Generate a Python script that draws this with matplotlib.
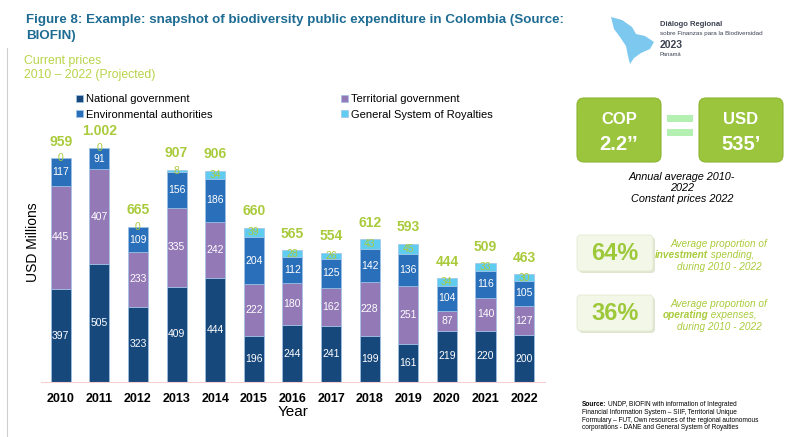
import matplotlib
matplotlib.use("Agg")
import matplotlib.pyplot as plt
from matplotlib.patches import FancyBboxPatch, Rectangle, Polygon
import numpy as np

plt.rcParams['font.family'] = ['Liberation Sans', 'DejaVu Sans']

years = ['2010', '2011', '2012', '2013', '2014', '2015', '2016',
         '2017', '2018', '2019', '2020', '2021', '2022']
national = [397, 505, 323, 409, 444, 196, 244, 241, 199, 161, 219, 220, 200]
territorial = [445, 407, 233, 335, 242, 222, 180, 162, 228, 251, 87, 140, 127]
environmental = [117, 91, 109, 156, 186, 204, 112, 125, 142, 136, 104, 116, 105]
royalties = [0, 0, 0, 8, 34, 39, 28, 26, 43, 45, 34, 33, 30]
totals = [959, 1002, 665, 907, 906, 660, 565, 554, 612, 593, 444, 509, 463]

series_names = ['National government', 'Territorial government',
                'Environmental authorities', 'General System of Royalties']
colors = ['#17487B', '#9479B7', '#2A6FBA', '#5FCCF0']
green = '#A9CB3B'
light_green = '#B8D449'

W, H = 785, 437
fig = plt.figure(figsize=(W / 100, H / 100), dpi=100)

# background axes in pixel units for the page decorations
bg = fig.add_axes([0, 0, 1, 1])
bg.set_xlim(0, W)
bg.set_ylim(H, 0)
bg.axis('off')

# bar chart axes
ax = fig.add_axes([41 / W, 1 - 382 / H, (545 - 41) / W, (382 - 130) / H])
x = np.arange(len(years))
width = 0.52
bottom = np.zeros(len(years))
bars = []
for vals, col in zip([national, territorial, environmental, royalties], colors):
    b = ax.bar(x, vals, width, bottom=bottom, color=col,
               edgecolor='#9fc3e6', linewidth=0.5)
    bars.append(b)
    bottom = bottom + np.array(vals)

# value labels inside segments
base = np.zeros(len(years))
for i, vals in enumerate([national, territorial, environmental, royalties]):
    for j, v in enumerate(vals):
        c = green if i == 3 else 'white'
        ax.text(x[j], base[j] + v / 2, str(v), ha='center', va='center',
                fontsize=7.5, color=c)
    base = base + np.array(vals)

# totals on top
for j, t in enumerate(totals):
    lab = '{:,}'.format(t).replace(',', '.')
    ax.annotate(lab, (x[j], bottom[j]), xytext=(0, 12), textcoords='offset points',
                ha='center', va='center', fontsize=10, fontweight='bold', color=green)

ax.set_xlim(-0.51, 12.54)
ax.set_ylim(0, 1080)
ax.set_xticks(x)
ax.set_xticklabels(years, fontsize=9, fontweight='bold')
ax.tick_params(axis='x', length=0, pad=8)
ax.set_yticks([])
for s in ['top', 'right', 'left']:
    ax.spines[s].set_visible(False)
ax.spines['bottom'].set_color('#f5cfcf')
ax.spines['bottom'].set_linewidth(0.8)
ax.patch.set_alpha(0)

# legends in two columns
leg_kw = dict(loc='upper left', bbox_transform=fig.transFigure, frameon=False,
              handlelength=0.6, handleheight=0.6, handletextpad=0.3,
              labelspacing=0.5, fontsize=8.0, borderpad=0, borderaxespad=0)
leg1 = ax.legend([bars[0], bars[2]], [series_names[0], series_names[2]],
                 bbox_to_anchor=(76 / W, 1 - 94 / H), **leg_kw)
ax.add_artist(leg1)
ax.legend([bars[1], bars[3]], [series_names[1], series_names[3]],
          bbox_to_anchor=(341 / W, 1 - 94 / H), **leg_kw)

bg.text(33, 242, 'USD Millions', rotation=90, ha='center', va='center', fontsize=10)
bg.text(293, 412, 'Year', ha='center', va='center', fontsize=11)

# titles
bg.plot([7, 7], [48, H], color='#cfcfcf', lw=0.8)
bg.text(26, 20, 'Figure 8: Example: snapshot of biodiversity public expenditure in Colombia (Source:',
        fontsize=9.6, fontweight='bold', color='#1E6C93', va='center')
bg.text(26, 36, 'BIOFIN)', fontsize=9.6, fontweight='bold', color='#1E6C93', va='center')
bg.text(24, 61, 'Current prices', fontsize=8.8, color=light_green, va='center')
bg.text(24, 75, '2010 \u2013 2022 (Projected)', fontsize=8.8, color=light_green, va='center')

# event logo
bg.add_patch(Polygon([(611, 17), (622, 20), (632, 27), (636, 34), (645, 36),
                      (654, 42), (650, 49), (641, 53), (634, 58), (630, 64),
                      (628, 56), (626, 46), (620, 37), (614, 29)],
                     closed=True, color='#7cc8ee', lw=0))
bg.text(660, 24, 'Diálogo Regional', fontsize=5.5, fontweight='bold', color='#3d4252', va='center')
bg.text(660, 33, 'sobre Finanzas para la Biodiversidad', fontsize=4.5, color='#3d4252', va='center')
bg.text(660, 45, '2023', fontsize=7.5, fontweight='bold', color='#3d4252', va='center')
bg.text(660, 55, 'Panamá', fontsize=4.2, color='#3d4252', va='center')

# currency equivalence boxes
for x0, top_txt, bot_txt in [(577, 'COP', '2.2\u2019\u2019'), (699, 'USD', '535\u2019')]:
    bg.add_patch(FancyBboxPatch((x0, 98), 84, 64, boxstyle='round,pad=0,rounding_size=7',
                                facecolor='#9BC53D', edgecolor='#8cb533', lw=0.8))
    bg.text(x0 + 42, 120, top_txt, ha='center', va='center', fontsize=12,
            fontweight='bold', color='white')
    bg.text(x0 + 42, 145, bot_txt, ha='center', va='center', fontsize=14.5,
            fontweight='bold', color='white')
bg.add_patch(Rectangle((667, 115), 26, 7, color='#B4F0B2', lw=0))
bg.add_patch(Rectangle((667, 129), 26, 7, color='#B4F0B2', lw=0))
bg.text(682, 188, 'Annual average 2010-\n2022\nConstant prices 2022', ha='center',
        va='center', fontsize=7.8, style='italic', linespacing=1.15)

# share boxes
for y0, pct, word, rest in [(235, '64%', 'investment', ' spending,'),
                            (295, '36%', 'operating', ' expenses,')]:
    bg.add_patch(FancyBboxPatch((579, y0 + 2), 76, 36, boxstyle='round,pad=0,rounding_size=4',
                                facecolor='#dfe5cf', lw=0))
    bg.add_patch(FancyBboxPatch((577, y0), 76, 36, boxstyle='round,pad=0,rounding_size=4',
                                facecolor='#F3F7E8', edgecolor='#e4ead4', lw=0.6))
    bg.text(615, y0 + 19, pct, ha='center', va='center', fontsize=17,
            fontweight='bold', color='#9DC83A')
    bg.text(719, y0 + 9, 'Average proportion of', ha='center', va='center',
            fontsize=7.2, style='italic', color=green)
    w = bg.text(708, y0 + 20, word, ha='right', va='center', fontsize=7.2,
                style='italic', fontweight='bold', color=green)
    bg.annotate(rest, xy=(1, 0.5), xycoords=w, ha='left', va='center',
                fontsize=7.2, style='italic', color=green)
    bg.text(719, y0 + 32, 'during 2010 - 2022', ha='center', va='center',
            fontsize=7.2, style='italic', color=green)

# source note
s = bg.text(582, 405, 'Source:', fontsize=4.7, fontweight='bold', va='center')
bg.annotate('UNDP, BIOFIN with information of Integrated', xy=(1, 0.5), xycoords=s,
            xytext=(1.5, 0), textcoords='offset points',
            ha='left', va='center', fontsize=4.7)
src_lines = ['Financial Information System \u2013 SIIF, Territorial Unique',
             'Formulary \u2013 FUT, Own resources of the regional autonomous',
             'corporations - DANE and General System of Royalties']
for k, line in enumerate(src_lines):
    bg.text(582, 412.5 + 7.5 * k, line, fontsize=4.7, va='center')

fig.savefig('out.png', dpi=100)
